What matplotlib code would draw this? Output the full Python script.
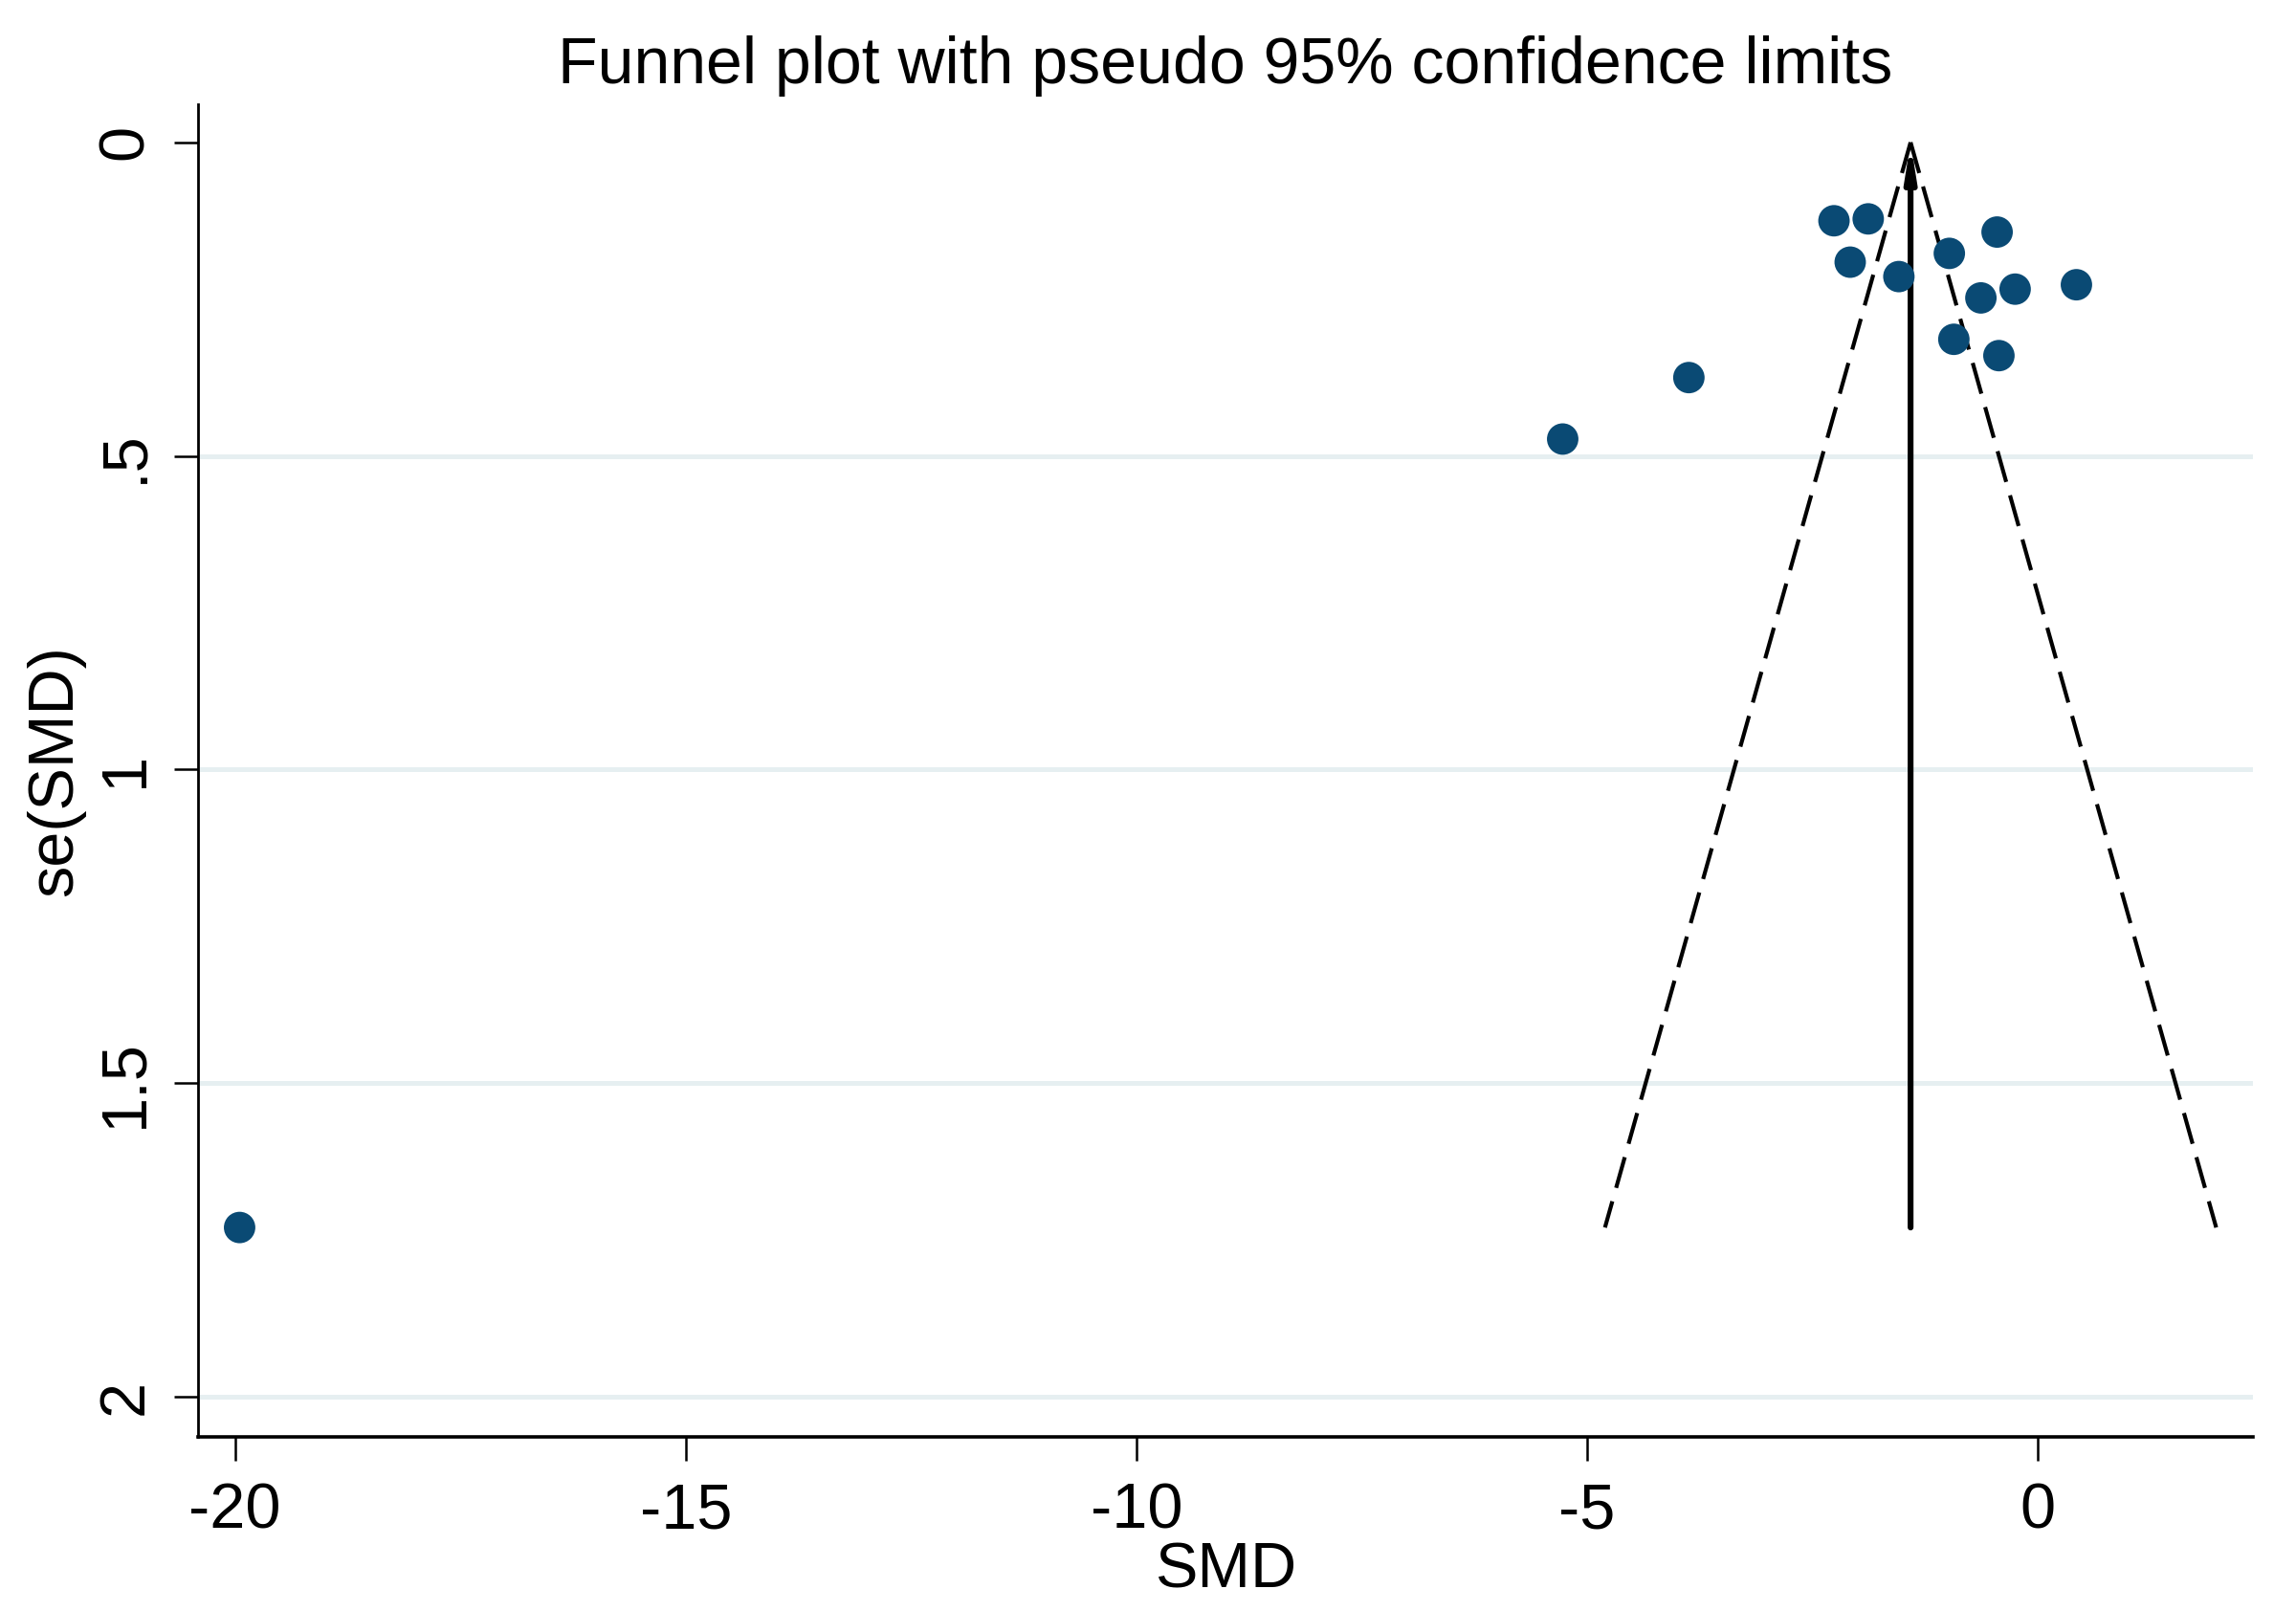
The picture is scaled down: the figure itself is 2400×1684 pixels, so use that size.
import numpy as np
import matplotlib
matplotlib.use("Agg")
import matplotlib.pyplot as plt

plt.rcParams['font.family'] = ['Liberation Sans', 'DejaVu Sans']

# study effects (SMD) and their standard errors
smd = [-2.26, -1.88, -0.45, -0.98, -2.08, -1.54, 0.43, -0.25, -0.63, -0.93, -0.43, -3.87, -5.27, -19.95]
se = [0.125, 0.122, 0.143, 0.177, 0.191, 0.214, 0.227, 0.234, 0.248, 0.314, 0.340, 0.375, 0.473, 1.73]

pooled = -1.41
se_max = 1.73

xticks = [-20, -15, -10, -5, 0]
yticks = [0, 0.5, 1, 1.5, 2]
ytick_labels = ['0', '.5', '1', '1.5', '2']

fig = plt.figure(figsize=(12, 8.42), dpi=200)
ax = fig.add_axes([0.0863, 0.108, 0.895, 0.827])

for y in yticks[1:]:
    ax.axhline(y, color='#E6EFF1', lw=1.8, zorder=0)

# pseudo 95% limits
s = np.array([0, se_max])
ax.plot(pooled - 1.96 * s, s, color='black', lw=1.5, linestyle=(0, (8, 3.5)), zorder=2)
ax.plot(pooled + 1.96 * s, s, color='black', lw=1.5, linestyle=(0, (8, 3.5)), zorder=2)

ax.annotate('', xy=(pooled, 0), xytext=(pooled, se_max),
            arrowprops=dict(arrowstyle='-|>,head_width=0.16,head_length=1.0',
                            color='black', lw=2.2, shrinkA=0, shrinkB=0), zorder=3)

ax.scatter(smd, se, s=140, color='#0A4A74', edgecolors='none', zorder=4)

ax.set_xlim(-20.41, 2.39)
ax.set_ylim(2.064, -0.06)
ax.set_xticks(xticks)
ax.set_xticklabels([str(t) for t in xticks])
ax.set_yticks(yticks)
ax.set_yticklabels(ytick_labels, rotation=90, va='center')

ax.spines['top'].set_visible(False)
ax.spines['right'].set_visible(False)
ax.spines['left'].set_linewidth(1.0)
ax.spines['bottom'].set_linewidth(1.3)
ax.tick_params(axis='both', length=9, width=0.9, labelsize=24)
ax.tick_params(axis='x', pad=8)
ax.tick_params(axis='y', pad=7)

ax.set_xlabel('SMD', fontsize=24, labelpad=0)
ax.set_ylabel('se(SMD)', fontsize=24, labelpad=4)
ax.set_title('Funnel plot with pseudo 95% confidence limits', fontsize=24.5, pad=8)

fig.savefig('out.png', dpi=200, facecolor='white')
